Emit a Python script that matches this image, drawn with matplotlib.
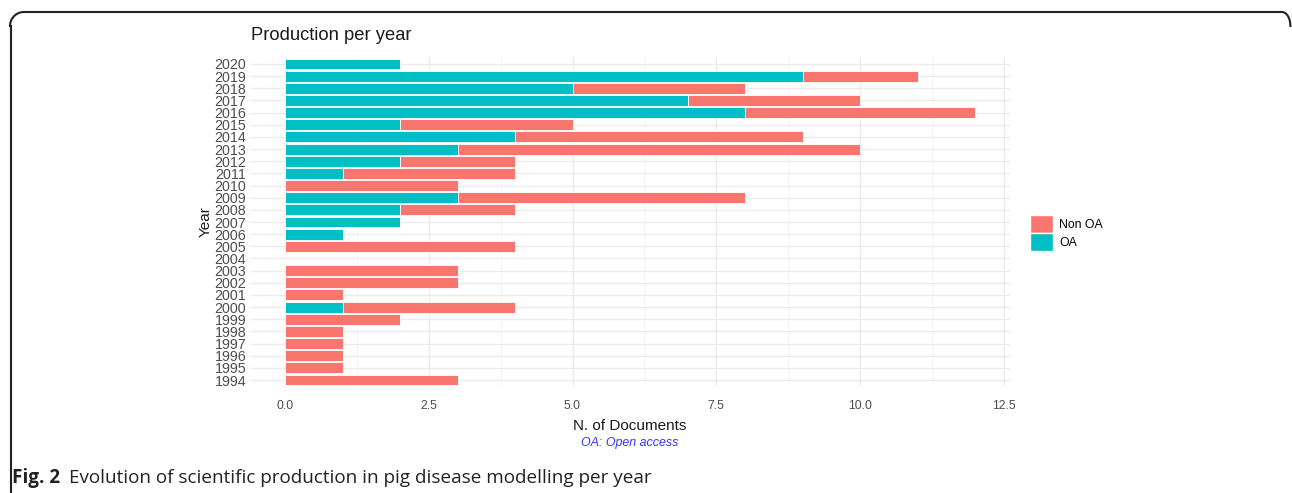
import matplotlib
matplotlib.use("Agg")
import matplotlib.pyplot as plt
from matplotlib.patches import Patch
from matplotlib.lines import Line2D
import numpy as np

years = [str(y) for y in range(1994, 2021)]
oa = [0, 0, 0, 0, 0, 0, 1, 0, 0, 0, 0, 0, 1, 2, 2, 3, 0, 1, 2, 3, 4, 2, 8, 7, 5, 9, 2]
non_oa = [3, 1, 1, 1, 1, 2, 3, 1, 3, 3, 0, 4, 0, 0, 2, 5, 3, 3, 2, 7, 5, 3, 4, 3, 3, 2, 0]
xticks = [0.0, 2.5, 5.0, 7.5, 10.0, 12.5]

C_NON = "#F8766D"
C_OA = "#00BFC4"

plt.rcParams['font.family'] = ['Liberation Sans', 'DejaVu Sans']
W, H = 1292, 493
fig = plt.figure(figsize=(W/100, H/100), dpi=100)

ax = fig.add_axes([250.5/W, 1 - 387.3/H, (1009.5-250.5)/W, (387.3-56.7)/H])
ypos = np.arange(len(years))
ax.barh(ypos, oa, height=0.9, color=C_OA, edgecolor="white", linewidth=0.6, zorder=3)
ax.barh(ypos, non_oa, left=oa, height=0.9, color=C_NON, edgecolor="white", linewidth=0.6, zorder=3)
ax.set_xlim(-0.6, 12.6)
ax.set_ylim(-0.6, len(years) - 0.4)
ax.set_yticks(ypos)
ax.set_yticklabels(years)
ax.set_xticks(xticks)
ax.set_xticklabels([f"{v:.1f}" for v in xticks])
ax.set_xticks(np.arange(1.25, 12.6, 2.5), minor=True)
ax.grid(True, which="major", color="#EBEBEB", linewidth=1.0, zorder=0)
ax.grid(True, which="minor", axis="x", color="#F3F3F3", linewidth=0.6, zorder=0)
for s in ax.spines.values():
    s.set_visible(False)
ax.tick_params(axis="both", which="both", length=0, colors="#4D4D4D")
ax.tick_params(axis="y", labelsize=10.3, pad=3)
ax.tick_params(axis="x", labelsize=8.8, pad=9)
ax.set_xlabel("N. of Documents", fontsize=11, color="#1a1a1a", labelpad=5)
ax.set_ylabel("Year", fontsize=11, color="#1a1a1a", labelpad=1)

fig.text(251/W, 1 - 35/H, "Production per year", fontsize=13.2, color="#1a1a1a", va="center", ha="left")
fig.text(630/W, 1 - 443/H, "OA: Open access", fontsize=8.9, color="#3333FF", style="italic", ha="center", va="center")

handles = [Patch(facecolor=C_NON, edgecolor="white", label="Non OA"),
           Patch(facecolor=C_OA, edgecolor="white", label="OA")]
fig.legend(handles=handles, loc="center left", bbox_to_anchor=(1030/W, 1 - 233/H), frameon=False,
           fontsize=8.8, handlelength=1.85, handleheight=1.85, handletextpad=0.55, labelspacing=0.05,
           borderaxespad=0, borderpad=0)

# border
lc = "#222222"
fig.add_artist(Line2D([10.5/W, 10.5/W], [0, 1 - 26/H], color=lc, lw=1.5, transform=fig.transFigure))
fig.add_artist(Line2D([24/W, 1282/W], [1 - 12/H, 1 - 12/H], color=lc, lw=1.5, transform=fig.transFigure))
t = np.linspace(0, np.pi/2, 20)
cx, cy, r = 24, 26, 14
fig.add_artist(Line2D((cx - r*np.cos(t))/W, 1 - (cy - r*np.sin(t))/H, color=lc, lw=1.5, transform=fig.transFigure))
cx2 = 1282
fig.add_artist(Line2D((cx2 + r*np.cos(t)*0.6)/W, 1 - (cy - r*np.sin(t))/H, color=lc, lw=1.5,
                      transform=fig.transFigure, clip_on=False))

fig.text(12/W, 1 - 478/H, "Fig. 2", fontsize=13.6, fontweight="bold", family=["Open Sans", "DejaVu Sans"],
         color="#222222", va="center", ha="left")
fig.text(69/W, 1 - 478/H, "Evolution of scientific production in pig disease modelling per year", fontsize=13.6,
         family=["Open Sans", "DejaVu Sans"], color="#222222", va="center", ha="left")

fig.savefig("out.png", dpi=100)
